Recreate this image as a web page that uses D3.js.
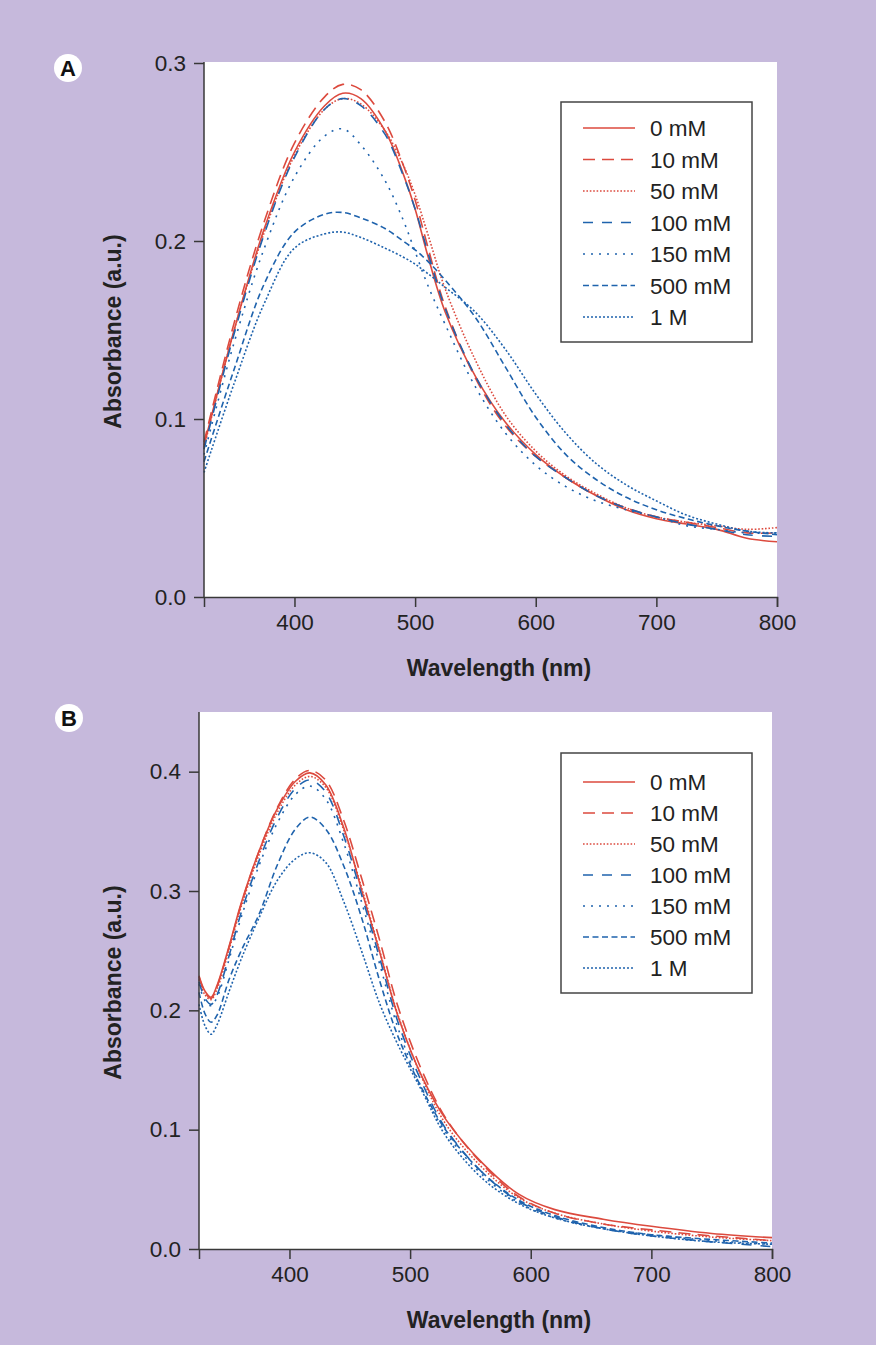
<!DOCTYPE html>
<html>
<head>
<meta charset="utf-8">
<script src="https://cdn.jsdelivr.net/npm/d3@7"></script>
<style>
    body { margin: 0; background: #c6b9dc; }
    svg { display: block; font-family: "Liberation Sans", Arial, Helvetica, sans-serif; }
</style>
</head>
<body>
<svg id="figure"></svg>
<script>
// ---- data ----
const series_names = ['0 mM', '10 mM', '50 mM', '100 mM', '150 mM', '500 mM', '1 M'];

const x_ticks = [400, 500, 600, 700, 800];
const y_ticks_a = [0.0, 0.1, 0.2, 0.3];
const y_ticks_b = [0.0, 0.1, 0.2, 0.3, 0.4];

// panel A
const wavelength_a = [325, 350, 375, 400, 425, 440, 455, 475, 490, 500, 510, 525, 550, 575, 600, 625, 650, 675, 700, 725, 750, 775, 800];
const abs_a_0mM   = [0.085, 0.150, 0.207, 0.250, 0.276, 0.283, 0.280, 0.262, 0.238, 0.218, 0.193, 0.160, 0.124, 0.098, 0.080, 0.067, 0.057, 0.049, 0.044, 0.041, 0.038, 0.033, 0.031];
const abs_a_10mM  = [0.087, 0.154, 0.211, 0.255, 0.281, 0.288, 0.285, 0.267, 0.243, 0.223, 0.198, 0.163, 0.123, 0.096, 0.079, 0.067, 0.057, 0.050, 0.045, 0.042, 0.039, 0.036, 0.036];
const abs_a_50mM  = [0.084, 0.150, 0.205, 0.248, 0.274, 0.280, 0.277, 0.262, 0.243, 0.226, 0.205, 0.173, 0.133, 0.102, 0.082, 0.068, 0.058, 0.050, 0.045, 0.042, 0.040, 0.038, 0.039];
const abs_a_100mM = [0.083, 0.148, 0.204, 0.247, 0.274, 0.280, 0.276, 0.260, 0.237, 0.218, 0.195, 0.162, 0.124, 0.097, 0.079, 0.067, 0.057, 0.050, 0.045, 0.041, 0.038, 0.035, 0.034];
const abs_a_150mM = [0.080, 0.143, 0.196, 0.236, 0.259, 0.263, 0.254, 0.234, 0.212, 0.194, 0.176, 0.153, 0.118, 0.092, 0.074, 0.062, 0.054, 0.049, 0.045, 0.040, 0.038, 0.036, 0.036];
const abs_a_500mM = [0.076, 0.128, 0.176, 0.205, 0.215, 0.216, 0.213, 0.207, 0.200, 0.195, 0.189, 0.178, 0.157, 0.129, 0.101, 0.080, 0.066, 0.056, 0.049, 0.044, 0.040, 0.037, 0.035];
const abs_a_1M    = [0.070, 0.120, 0.165, 0.196, 0.204, 0.205, 0.202, 0.196, 0.191, 0.187, 0.182, 0.174, 0.160, 0.139, 0.114, 0.092, 0.075, 0.063, 0.054, 0.046, 0.041, 0.037, 0.036];

// panel B
const wavelength_b = [325, 330, 335, 340, 350, 360, 375, 390, 405, 417, 430, 445, 460, 475, 490, 510, 530, 560, 590, 620, 660, 700, 750, 800];
const abs_b_0mM   = [0.229, 0.216, 0.211, 0.221, 0.254, 0.290, 0.334, 0.369, 0.392, 0.399, 0.389, 0.353, 0.300, 0.248, 0.195, 0.144, 0.108, 0.072, 0.046, 0.033, 0.025, 0.019, 0.013, 0.0095];
const abs_b_10mM  = [0.228, 0.215, 0.210, 0.220, 0.253, 0.289, 0.334, 0.370, 0.394, 0.401, 0.393, 0.359, 0.310, 0.258, 0.203, 0.149, 0.109, 0.071, 0.044, 0.030, 0.021, 0.016, 0.011, 0.007];
const abs_b_50mM  = [0.226, 0.213, 0.209, 0.218, 0.251, 0.287, 0.331, 0.366, 0.389, 0.396, 0.387, 0.351, 0.302, 0.249, 0.196, 0.143, 0.104, 0.068, 0.043, 0.030, 0.021, 0.015, 0.010, 0.007];
const abs_b_100mM = [0.224, 0.210, 0.205, 0.213, 0.246, 0.282, 0.326, 0.362, 0.386, 0.393, 0.383, 0.346, 0.296, 0.243, 0.190, 0.139, 0.100, 0.064, 0.040, 0.027, 0.017, 0.011, 0.006, 0.002];
const abs_b_150mM = [0.222, 0.208, 0.204, 0.211, 0.243, 0.278, 0.322, 0.357, 0.381, 0.388, 0.377, 0.340, 0.290, 0.238, 0.185, 0.134, 0.097, 0.062, 0.039, 0.026, 0.017, 0.012, 0.007, 0.004];
const abs_b_500mM = [0.215, 0.197, 0.190, 0.196, 0.226, 0.250, 0.281, 0.322, 0.352, 0.362, 0.352, 0.321, 0.277, 0.224, 0.178, 0.134, 0.099, 0.064, 0.041, 0.028, 0.018, 0.012, 0.008, 0.005];
const abs_b_1M    = [0.205, 0.187, 0.180, 0.188, 0.216, 0.243, 0.278, 0.309, 0.327, 0.332, 0.324, 0.291, 0.249, 0.205, 0.171, 0.132, 0.094, 0.059, 0.038, 0.026, 0.017, 0.011, 0.006, 0.004];

// ---- styles ----
const red = '#dc4a3e';
const blue = '#1f63ad';
const line_styles = [
    { color: red,  dash: null },
    { color: red,  dash: '12,7' },
    { color: red,  dash: '1.6,1.8' },
    { color: blue, dash: '10,9' },
    { color: blue, dash: '2,6' },
    { color: blue, dash: '6,3.5' },
    { color: blue, dash: '2,2' }
];
const font_size = '22.5px';

function build_series(wl, columns) {
    return columns.map((col, i) => ({
        name: series_names[i],
        style: line_styles[i],
        points: wl.map((w, j) => ({ x: w, y: col[j] }))
    }));
}

class SpectrumPlot {

    constructor(config, data) {
        this.config = config;
        this.data = data;
        this.init();
    }

    init() {
        let self = this;
        const c = self.config;

        self.chart = c.parent.append('g');

        self.chart.append('rect')
            .attr('x', c.left)
            .attr('y', c.top)
            .attr('width', c.right - c.left)
            .attr('height', c.bottom - c.top)
            .attr('fill', '#ffffff');

        self.xscale = d3.scaleLinear()
            .domain([325, 800])
            .range([c.left, c.right]);

        self.yscale = d3.scaleLinear()
            .domain([0, c.ymax])
            .range([c.bottom, c.ytop]);

        self.xaxis = d3.axisBottom(self.xscale)
            .tickValues(x_ticks)
            .tickSize(10)
            .tickSizeOuter(10)
            .tickPadding(7)
            .tickFormat(d3.format('d'));

        self.yaxis = d3.axisLeft(self.yscale)
            .tickValues(c.yticks)
            .tickSize(10)
            .tickSizeOuter(0)
            .tickPadding(8)
            .tickFormat(d3.format('.1f'));

        self.line = d3.line()
            .x(d => self.xscale(d.x))
            .y(d => self.yscale(d.y))
            .curve(d3.curveCatmullRom.alpha(0.5));
    }

    render() {
        let self = this;
        const c = self.config;

        self.chart.append('g')
            .selectAll('path')
            .data(self.data)
            .join('path')
            .attr('d', d => self.line(d.points))
            .attr('fill', 'none')
            .attr('stroke', d => d.style.color)
            .attr('stroke-width', 1.6)
            .attr('stroke-dasharray', d => d.style.dash);

        const xg = self.chart.append('g')
            .attr('transform', `translate(0, ${c.bottom})`)
            .call(self.xaxis);

        const yg = self.chart.append('g')
            .attr('transform', `translate(${c.left}, 0)`)
            .call(self.yaxis);

        // y axis line runs up to the top of the plot box
        yg.select('.domain').attr('d', `M0,${c.bottom}V${c.top}`);

        [xg, yg].forEach(g => {
            g.select('.domain').attr('stroke', '#383838').attr('stroke-width', 1.5);
            g.selectAll('.tick line').attr('stroke', '#383838').attr('stroke-width', 1.5);
            g.selectAll('.tick text')
                .attr('fill', '#222')
                .style('font-size', font_size)
                .style('font-family', '"Liberation Sans", Arial, sans-serif');
        });

        // title sits a little right of the plot centre, as in the figure
        self.chart.append('text')
            .attr('x', c.xlabel_x)
            .attr('y', c.bottom + 71)
            .attr('dy', '0.35em')
            .attr('text-anchor', 'middle')
            .style('font-size', '23px')
            .style('font-weight', 'bold')
            .attr('fill', '#222')
            .text('Wavelength (nm)');

        self.chart.append('text')
            .attr('transform', `translate(${c.ylabel_x}, ${(c.top + c.bottom) / 2 + 2}) rotate(-90)`)
            .attr('dy', '0.35em')
            .attr('text-anchor', 'middle')
            .style('font-size', '23px')
            .style('font-weight', 'bold')
            .attr('fill', '#222')
            .text('Absorbance (a.u.)');

        // panel letter
        const badge = self.chart.append('g')
            .attr('transform', `translate(${c.letter_x}, ${c.letter_y})`);
        badge.append('circle')
            .attr('r', 14)
            .attr('fill', '#ffffff');
        badge.append('text')
            .attr('text-anchor', 'middle')
            .attr('dy', '0.36em')
            .style('font-size', '22px')
            .style('font-weight', 'bold')
            .attr('fill', '#111')
            .text(c.letter);

        self.render_legend();
    }

    render_legend() {
        let self = this;
        const lg = self.config.legend;

        const g = self.chart.append('g')
            .attr('transform', `translate(${lg.x}, ${lg.y})`);

        g.append('rect')
            .attr('width', lg.w)
            .attr('height', lg.h)
            .attr('fill', '#ffffff')
            .attr('stroke', '#444')
            .attr('stroke-width', 1.5);

        const rows = g.selectAll('g.row')
            .data(self.data)
            .join('g')
            .attr('class', 'row')
            .attr('transform', (d, i) => `translate(0, ${lg.first + i * lg.step})`);

        rows.append('line')
            .attr('x1', 22)
            .attr('x2', 74)
            .attr('stroke', d => d.style.color)
            .attr('stroke-width', 1.6)
            .attr('stroke-dasharray', d => d.style.dash);

        rows.append('text')
            .attr('x', 89)
            .attr('dy', '0.36em')
            .style('font-size', font_size)
            .attr('fill', '#222')
            .text(d => d.name);
    }
}

const svg = d3.select('#figure')
    .attr('width', 876)
    .attr('height', 1345);

svg.append('rect')
    .attr('width', 876)
    .attr('height', 1345)
    .attr('fill', '#c6b9dc');

const data_a = build_series(wavelength_a,
    [abs_a_0mM, abs_a_10mM, abs_a_50mM, abs_a_100mM, abs_a_150mM, abs_a_500mM, abs_a_1M]);
const data_b = build_series(wavelength_b,
    [abs_b_0mM, abs_b_10mM, abs_b_50mM, abs_b_100mM, abs_b_150mM, abs_b_500mM, abs_b_1M]);

const plot_a = new SpectrumPlot({
    parent: svg,
    left: 204, right: 777, top: 62, bottom: 597, ytop: 63,
    ymax: 0.3, yticks: y_ticks_a,
    xlabel_x: 499, ylabel_x: 113,
    letter: 'A', letter_x: 68, letter_y: 68,
    legend: { x: 561, y: 102, w: 191, h: 240, first: 26, step: 31.5 }
}, data_a);
plot_a.render();

const plot_b = new SpectrumPlot({
    parent: svg,
    left: 199, right: 772, top: 712, bottom: 1249, ytop: 712,
    ymax: 0.45, yticks: y_ticks_b,
    xlabel_x: 499, ylabel_x: 113,
    letter: 'B', letter_x: 69, letter_y: 718,
    legend: { x: 561, y: 753, w: 191, h: 240, first: 29, step: 31 }
}, data_b);
plot_b.render();
</script>
</body>
</html>
